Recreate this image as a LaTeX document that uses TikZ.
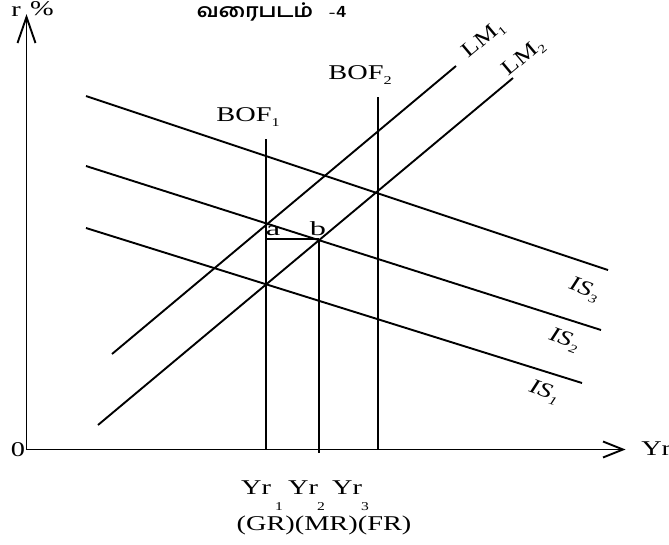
\documentclass[tikz,border=0pt]{standalone}
\usepackage{fontspec}
\setmainfont{Liberation Serif}
\newfontfamily\tamilfont[Script=Tamil]{Hind Madurai}
\usetikzlibrary{arrows.meta,calc}
\newcommand{\sbs}[1]{\raisebox{-0.5ex}{\fontsize{12}{12}\selectfont #1}}
\begin{document}
\begin{tikzpicture}[x=1pt,y=-1pt,
  curve/.style={line width=1.9pt},
  axisline/.style={line width=1.9pt},
  lbl/.style={font=\fontsize{21}{23}\selectfont, inner sep=0pt, xscale=1.35},
  islbl/.style={font=\fontsize{21}{23}\selectfont\itshape, inner sep=0pt, rotate=-20, xscale=1.3},
  lmlbl/.style={font=\fontsize{21}{23}\selectfont, inner sep=0pt, rotate=40, xscale=1.25},
  small/.style={font=\fontsize{12}{13}\selectfont, inner sep=0pt, xscale=1.3}]
\useasboundingbox (0,0) rectangle (669,544);
% axes
\coordinate (O) at (26.5,449.5);
\coordinate (Ytop) at (26.5,17);
\coordinate (Xend) at (623,449.5);
\draw[axisline] (O) -- (Ytop);
\draw[axisline] (O) -- (Xend);
\draw[axisline, line join=miter] ($(Ytop)+(-9,26)$) -- (Ytop) -- ($(Ytop)+(9,26)$);
\draw[axisline, line join=miter] ($(Xend)+(-20,-8)$) -- (Xend) -- ($(Xend)+(-20,8)$);
\node[lbl] (zero) at (18,450) {0};
\node[lbl] (rr) at (16,12) {r};
\node[lbl] (pct) at (42,9) {\%};
\node[lbl, anchor=west] (yr) at (641,449) {Yr};
\node[inner sep=0pt, xscale=1.12, font=\tamilfont\fontsize{19}{20}\selectfont\bfseries] (title) at (255,12) {வரைபடம்};
\node[inner sep=0pt, xscale=1.2, font=\fontsize{16}{17}\selectfont\sffamily\bfseries] (num) at (338,12) {-4};
% LM curves
\coordinate (lm1a) at (112,354); \coordinate (lm1b) at (456,66);
\coordinate (lm2a) at (98,425);  \coordinate (lm2b) at (513,78);
\draw[curve] (lm1a) -- (lm1b);
\draw[curve] (lm2a) -- (lm2b);
\node[lmlbl] (LM1) at (484,40) {LM\sbs{1}};
\node[lmlbl] (LM2) at (524,58) {LM\sbs{2}};
% IS curves
\coordinate (is3a) at (86,96);  \coordinate (is3b) at (608,270);
\coordinate (is2a) at (86,166); \coordinate (is2b) at (601,330);
\coordinate (is1a) at (86,228); \coordinate (is1b) at (582,383);
\draw[curve] (is3a) -- (is3b);
\draw[curve] (is2a) -- (is2b);
\draw[curve] (is1a) -- (is1b);
\node[islbl] (IS3) at (584,290) {IS\sbs{3}};
\node[islbl] (IS2) at (564,340) {IS\sbs{2}};
\node[islbl] (IS1) at (544,392) {IS\sbs{1}};
% BOF curves
\coordinate (bof1t) at (266,139); \coordinate (bof1b) at (266,449);
\coordinate (bof2t) at (378,97);  \coordinate (bof2b) at (378,449);
\coordinate (yr2t) at (319,239);  \coordinate (yr2b) at (319,453);
\coordinate (ah) at (266,239);
\draw[curve] (bof1t) -- (bof1b);
\draw[curve] (bof2t) -- (bof2b);
\draw[curve] (yr2t) -- (yr2b);
\draw[line width=1.5pt] (ah) -- (yr2t);
\node[lbl] (BOF1) at (248,117) {BOF\sbs{1}};
\node[lbl] (BOF2) at (360,75) {BOF\sbs{2}};
\node[lbl, font=\fontsize{20}{22}\selectfont, xscale=1.2] (a) at (273,231) {a};
\node[lbl, font=\fontsize{20}{22}\selectfont, xscale=1.2] (b) at (318,229) {b};
% bottom labels
\node[lbl] (Y1) at (256,488) {Yr};
\node[lbl] (Y2) at (303,488) {Yr};
\node[lbl] (Y3) at (347,488) {Yr};
\node[small] (s1) at (279,507) {1};
\node[small] (s2) at (321,507) {2};
\node[small] (s3) at (365,507) {3};
\node[lbl] (gr) at (324,525) {(GR)(MR)(FR)};
\end{tikzpicture}
\end{document}
